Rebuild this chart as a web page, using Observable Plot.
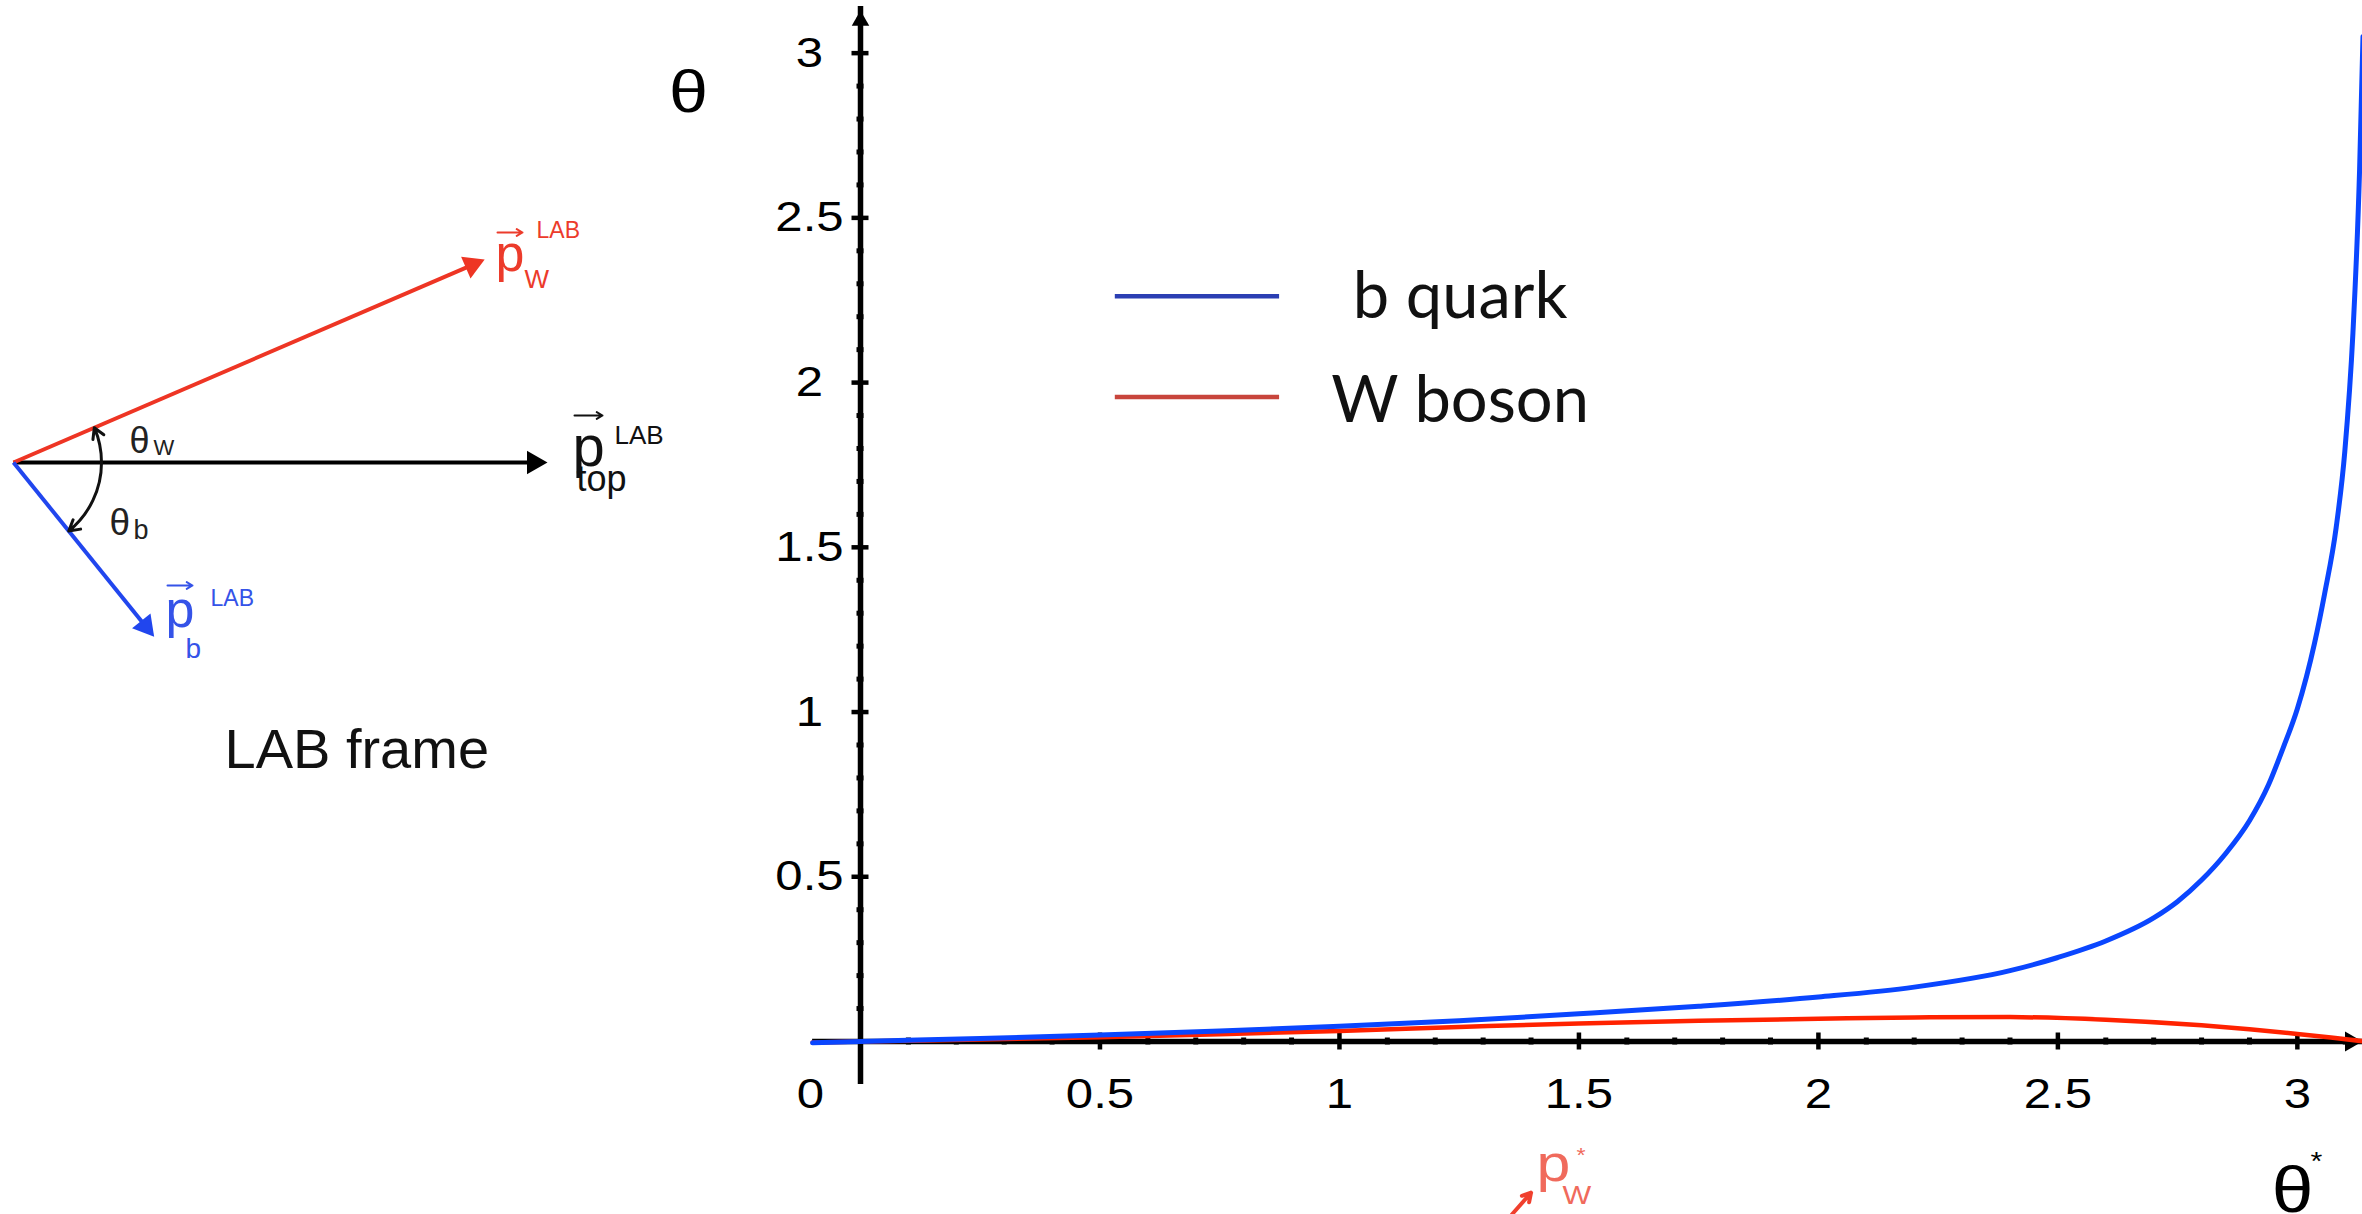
<!DOCTYPE html>
<html><head><meta charset="utf-8">
<script src="https://cdn.jsdelivr.net/npm/d3@7"></script>
<script src="https://cdn.jsdelivr.net/npm/@observablehq/plot@0.6"></script>
<style>
html,body{margin:0;padding:0;background:#fff;overflow:hidden;}
#wrap{position:relative;width:2362px;height:1214px;overflow:hidden;}
#wrap svg{position:absolute;left:0;top:0;max-width:none;}
</style></head><body><div id="wrap"></div>
<script>
// ---------- chart data ----------
const seriesNames = ["b quark", "W boson"];
const curveColors = ["#0a46ff", "#ff2200"];
const legendSwatchColors = ["#2b3fb3", "#c8453c"];

const bThetaStar = [-0.1, 0, 0.25, 0.5, 0.75, 1.0, 1.25, 1.5, 1.75, 2.0, 2.2, 2.4, 2.5, 2.6, 2.7, 2.75, 2.8, 2.85, 2.9, 2.94, 2.97, 3.0, 3.036, 3.057, 3.081, 3.099, 3.116, 3.13, 3.137];
const bTheta     = [-0.004, 0, 0.009, 0.020, 0.032, 0.046, 0.063, 0.084, 0.107, 0.135, 0.165, 0.215, 0.255, 0.305, 0.375, 0.425, 0.490, 0.570, 0.670, 0.780, 0.890, 1.010, 1.210, 1.360, 1.560, 1.790, 2.150, 2.650, 3.05];

const wThetaStar = [-0.1, 0, 0.25, 0.5, 0.75, 1.0, 1.25, 1.5, 1.75, 2.0, 2.2, 2.4, 2.6, 2.8, 2.9, 3.0, 3.07, 3.1416];
const wTheta     = [-0.003, 0, 0.006, 0.013, 0.022, 0.032, 0.044, 0.055, 0.063, 0.069, 0.073, 0.074, 0.066, 0.049, 0.037, 0.023, 0.012, 0];

const xTickValues = [0.5, 1, 1.5, 2, 2.5, 3];
const xTickLabels = ["0.5", "1", "1.5", "2", "2.5", "3"];
const yTickValues = [0.5, 1, 1.5, 2, 2.5, 3];
const yTickLabels = ["0.5", "1", "1.5", "2", "2.5", "3"];
const originLabel = "0";
const axisTitleX = "θ";
const axisTitleY = "θ";

// LAB-frame sketch: momentum vectors (angle in degrees, length in px)
const vectorNames = ["top", "W", "b"];
const vectorAngles = [0, 23.3, -51.1];
const vectorLengths = [534, 513, 224];
const vectorColors = ["#000000", "#ee3524", "#2146ee"];

// ---------- layout ----------
const W = 2362, H = 1214;
const mLeft = 860, mRight = 0, mTop = 6, mBottom = 173;
const xMax = 3.136, yMax = Math.PI, axisStart = -0.1;
const font = "Liberation Sans, Arial, Helvetica, sans-serif";
const stretch = 1.17; // the chart's lettering is drawn horizontally widened
const tipOffset = r => 2 * Math.sqrt(r * r * Math.PI / (3 * Math.sqrt(3)));

function stretchText(svg) {
  svg.querySelectorAll('g[aria-label="text"]').forEach(g => {
    if ((g.getAttribute("font-family") || "").includes("Lato")) return;
    g.querySelectorAll("text").forEach(t => {
      t.setAttribute("transform", (t.getAttribute("transform") || "") + ` scale(${stretch},1)`);
    });
  });
}

const rows = [
  ...wThetaStar.map((x, i) => ({series: seriesNames[1], x, y: wTheta[i]})),
  ...bThetaStar.map((x, i) => ({series: seriesNames[0], x, y: bTheta[i]}))
];
const minorTicks = d3.range(1, 32).map(i => i / 10).filter(v => Math.abs(v * 2 - Math.round(v * 2)) > 1e-6);

// legend placement (data units of the chart frame)
const legendX1 = 0.532, legendX2 = 0.875, legendTextX = 1.252;
const legendLineY = [2.262, 1.956], legendTextY = [2.196, 1.880];
const legendMarks = seriesNames.flatMap((name, i) => [
  Plot.ruleY([0], {x1: legendX1, x2: legendX2, y: legendLineY[i], stroke: legendSwatchColors[i], strokeWidth: 4.5}),
  Plot.text([name], {x: legendTextX, y: legendTextY[i], text: d => d, lineAnchor: "bottom", textAnchor: "middle",
    fontFamily: "Lato, 'Open Sans', sans-serif", fontSize: 65, fill: "#111"})
]);

const chart = Plot.plot({
  width: W, height: H,
  marginLeft: mLeft, marginRight: mRight, marginTop: mTop, marginBottom: mBottom,
  x: {domain: [0, xMax], axis: null},
  y: {domain: [0, yMax], axis: null},
  color: {type: "identity"},
  style: {fontFamily: font, background: "transparent", overflow: "visible"},
  marks: [
    // axes
    Plot.ruleY([0], {x1: axisStart, x2: xMax, y: 0, stroke: "#000", strokeWidth: 5.5}),
    Plot.ruleX([0], {y1: axisStart, y2: yMax, x: 0, stroke: "#000", strokeWidth: 5.5, insetTop: 10}),
    Plot.dot([0], {x: xMax, y: 0, dx: -tipOffset(7.5), symbol: "triangle", r: 7.5, fill: "#000", rotate: 90}),
    Plot.dot([0], {x: 0, y: yMax, dy: 4 + tipOffset(6.5), symbol: "triangle", r: 6.5, fill: "#000"}),
    // minor ticks
    Plot.ruleX(minorTicks, {x: d => d, y1: 0, y2: 0, insetTop: 3.5, insetBottom: 3.5, stroke: "#000", strokeWidth: 5}),
    Plot.ruleY(minorTicks, {y: d => d, x1: 0, x2: 0, insetLeft: 3.5, insetRight: 3.5, stroke: "#000", strokeWidth: 5}),
    // major ticks
    Plot.ruleX(xTickValues, {x: d => d, y1: 0, y2: 0, insetTop: 8.5, insetBottom: 8.5, stroke: "#000", strokeWidth: 4.5}),
    Plot.ruleY(yTickValues, {y: d => d, x1: 0, x2: 0, insetLeft: 8.5, insetRight: 8.5, stroke: "#000", strokeWidth: 4.5}),
    // tick labels
    Plot.text(xTickValues, {x: d => d, y: 0, text: (d, i) => xTickLabels[i], dy: 66, lineAnchor: "bottom", fontSize: 42, fill: "#000"}),
    Plot.text(yTickValues, {x: 0, y: d => d, text: (d, i) => yTickLabels[i], dx: -51, lineAnchor: "middle", fontSize: 42, fill: "#000"}),
    Plot.text([originLabel], {x: 0, y: 0, text: d => d, dx: -50, dy: 66, lineAnchor: "bottom", fontSize: 42, fill: "#000"}),
    // axis titles
    Plot.text([axisTitleY], {frameAnchor: "top-left", text: d => d, dx: -172, dy: 105, textAnchor: "middle", lineAnchor: "bottom", fontSize: 60, fill: "#000"}),
    Plot.text([axisTitleX], {frameAnchor: "bottom-right", text: d => d, dx: -70, dy: 170, textAnchor: "middle", lineAnchor: "bottom", fontSize: 64, fill: "#000"}),
    Plot.text(["*"], {frameAnchor: "bottom-right", text: d => d, dx: -46, dy: 128, textAnchor: "middle", lineAnchor: "bottom", fontSize: 26, fill: "#000"}),
    // cropped fragment of the rest-frame sketch (p_W*)
    Plot.text(["p"], {frameAnchor: "bottom-left", text: d => d, dx: 676, dy: 139, textAnchor: "start", lineAnchor: "bottom", fontSize: 52, fill: "#f06a5c"}),
    Plot.text(["W"], {frameAnchor: "bottom-left", text: d => d, dx: 702, dy: 162, textAnchor: "start", lineAnchor: "bottom", fontSize: 26, fill: "#f06a5c"}),
    Plot.text(["*"], {frameAnchor: "bottom-left", text: d => d, dx: 716, dy: 120, textAnchor: "start", lineAnchor: "bottom", fontSize: 20, fill: "#f06a5c"}),
    Plot.arrow([0], {x1: 1.36, y1: -0.525, x2: 1.40, y2: -0.459, stroke: "#f0402e", strokeWidth: 4, headLength: 4}),
    // legend
    ...legendMarks,
    // curves
    Plot.line(rows, {x: "x", y: "y", z: "series", stroke: d => curveColors[seriesNames.indexOf(d.series)],
      strokeWidth: d => d.series === seriesNames[0] ? 5 : 4.5, curve: "monotone-x"})
  ]
});
stretchText(chart);
document.getElementById("wrap").appendChild(chart);

// ---------- LAB frame sketch ----------
const O = {x: 13, y: 462};
const headR = 8.8;
const vecRows = vectorNames.map((n, i) => {
  const a = vectorAngles[i] * Math.PI / 180;
  const x2 = O.x + vectorLengths[i] * Math.cos(a), y2 = O.y - vectorLengths[i] * Math.sin(a);
  const off = tipOffset(headR);
  return {name: n, color: vectorColors[i], x1: O.x, y1: O.y,
          hx: x2 - off * Math.cos(a), hy: y2 + off * Math.sin(a), rot: 90 - vectorAngles[i],
          lx: x2 - 0.6 * off * Math.cos(a), ly: y2 + 0.6 * off * Math.sin(a)};
});
const arcR = 88;
const arcPt = deg => ({x: O.x + arcR * Math.cos(deg * Math.PI / 180), y: O.y - arcR * Math.sin(deg * Math.PI / 180)});
const arcs = [
  {from: arcPt(0), to: arcPt(vectorAngles[1]), bend: -vectorAngles[1] / 2},
  {from: arcPt(0), to: arcPt(vectorAngles[2]), bend: -vectorAngles[2] / 2}
];
const red = "#ec3b2b", blk = "#111111", blu = "#3553e8", dark = "#222222";
const diagramLabels = [
  {text: "p", x: 495, y: 270, size: 52, color: red},
  {text: "W", x: 524, y: 287, size: 26, color: red},
  {text: "LAB", x: 536, y: 237, size: 23, color: red},
  {text: "p", x: 572, y: 465, size: 58, color: blk},
  {text: "LAB", x: 614, y: 443, size: 26, color: blk},
  {text: "top", x: 576, y: 490, size: 36, color: blk},
  {text: "p", x: 165, y: 626, size: 52, color: blu},
  {text: "LAB", x: 210, y: 605, size: 23, color: blu},
  {text: "b", x: 185, y: 657, size: 28, color: blu},
  {text: "θ", x: 129, y: 452, size: 36, color: dark},
  {text: "W", x: 153, y: 454, size: 22, color: dark},
  {text: "θ", x: 109, y: 534, size: 37, color: dark},
  {text: "b", x: 133, y: 538, size: 27, color: dark},
  {text: "LAB frame", x: 224, y: 767, size: 56, color: blk}
];
const overArrows = [
  {x: 497, y: 232, len: 25, color: red},
  {x: 574, y: 415, len: 28, color: blk},
  {x: 167, y: 585, len: 25, color: blu}
];

const sketch = Plot.plot({
  width: 700, height: 900, margin: 0,
  x: {domain: [0, 700], range: [0, 700], axis: null},
  y: {domain: [0, 900], range: [0, 900], axis: null},
  color: {type: "identity"},
  style: {fontFamily: font, background: "transparent", overflow: "visible"},
  marks: [
    Plot.link(vecRows, {x1: "x1", y1: "y1", x2: "lx", y2: "ly", stroke: "color", strokeWidth: 4}),
    Plot.dot(vecRows, {x: "hx", y: "hy", symbol: "triangle", r: headR, fill: "color", rotate: "rot"}),
    ...arcs.map(a => Plot.arrow([a], {x1: d => d.from.x, y1: d => d.from.y, x2: d => d.to.x, y2: d => d.to.y,
      bend: a.bend, stroke: "#111", strokeWidth: 3, headLength: 6})),
    Plot.arrow(overArrows, {x1: "x", y1: "y", x2: d => d.x + d.len, y2: "y", stroke: "color", strokeWidth: 2, headLength: 5}),
    Plot.text(diagramLabels, {x: "x", y: "y", text: "text", fontSize: "size", fill: "color", textAnchor: "start", lineAnchor: "bottom"})
  ]
});
document.getElementById("wrap").appendChild(sketch);
</script></body></html>
